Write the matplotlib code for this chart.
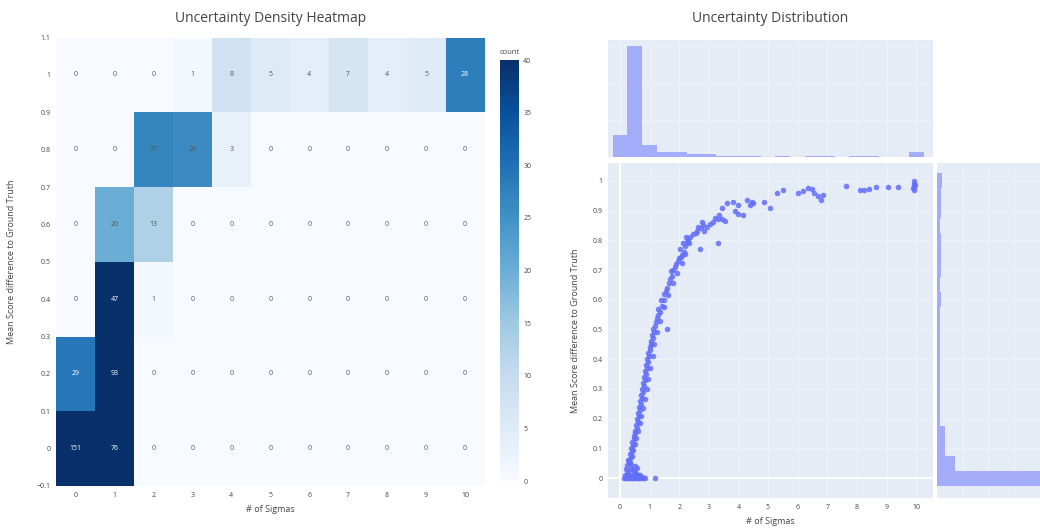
import numpy as np
import matplotlib.pyplot as plt
from matplotlib.colors import Normalize

plt.rcParams['font.family'] = ['Open Sans', 'DejaVu Sans']

# heatmap: counts per (# of sigmas, score difference) cell
sigma_bins = [0, 1, 2, 3, 4, 5, 6, 7, 8, 9, 10]
score_bins = [0, 0.2, 0.4, 0.6, 0.8, 1.0]
counts_0 = [151, 76, 0, 0, 0, 0, 0, 0, 0, 0, 0]
counts_02 = [29, 93, 0, 0, 0, 0, 0, 0, 0, 0, 0]
counts_04 = [0, 47, 1, 0, 0, 0, 0, 0, 0, 0, 0]
counts_06 = [0, 20, 13, 0, 0, 0, 0, 0, 0, 0, 0]
counts_08 = [0, 0, 27, 26, 3, 0, 0, 0, 0, 0, 0]
counts_1 = [0, 0, 0, 1, 8, 5, 4, 7, 4, 5, 28]
count_max = 40

# scatter: sigmas vs mean score difference
sigma_x = [0.15, 0.2, 0.25, 0.3, 0.35, 0.4, 0.45, 0.5, 0.55, 0.6, 0.65, 0.7, 0.78, 0.85, 1.18,
           0.18, 0.25, 0.32, 0.4, 0.48, 0.55, 0.62, 0.2, 0.28, 0.36, 0.44, 0.52,
           0.22, 0.3, 0.38, 0.5, 0.68, 0.74, 0.58, 0.26, 0.34,
           0.3, 0.36, 0.33, 0.4, 0.38, 0.44, 0.42, 0.48, 0.46, 0.52, 0.5, 0.56, 0.54, 0.6,
           0.58, 0.63, 0.61, 0.66, 0.64, 0.7, 0.68, 0.73, 0.71, 0.77, 0.75, 0.8, 0.78, 0.84,
           0.82, 0.87, 0.85, 0.9, 0.88, 0.94, 0.92, 0.98, 0.96, 1.02, 1.0, 1.06, 1.04, 1.1,
           1.08, 1.14, 1.12, 1.18, 1.2, 1.25, 1.28, 1.34, 1.3, 1.42, 1.38, 1.5, 1.47, 1.55,
           1.6, 1.58, 1.65, 1.7, 1.75, 1.72, 1.8, 1.86, 1.9, 1.95, 2.0, 2.05, 2.1, 2.15,
           2.04, 2.2, 2.12, 2.25, 2.3, 2.22, 2.38, 2.45, 2.7,
           0.4, 0.45, 0.5, 0.55, 0.6, 0.66, 0.72, 0.78, 0.84, 0.9, 0.96, 1.02, 1.1, 1.16,
           1.24, 1.36, 1.48, 1.62, 1.78, 1.92, 2.08, 2.18, 2.32,
           2.6, 2.65, 2.72, 2.8, 2.85, 2.95, 2.78, 2.55, 3.05,
           3.15, 3.2, 3.3, 3.35, 3.45, 3.56, 3.31,
           3.46, 3.6, 3.8, 3.9, 3.97, 4.0, 4.17,
           4.3, 4.4, 4.45, 4.5, 4.85, 5.08, 5.3, 5.5,
           6.0, 6.17, 6.34, 6.5, 6.54, 6.68, 6.78, 6.85,
           7.63, 8.1, 8.25, 8.4, 8.64, 9.05, 9.4,
           9.93, 9.93, 9.93, 9.93, 9.95, 9.91]
score_y = [0.0, 0.0, 0.0, 0.0, 0.0, 0.0, 0.0, 0.0, 0.0, 0.0, 0.0, 0.0, 0.0, 0.0, 0.0,
           0.01, 0.015, 0.01, 0.012, 0.008, 0.015, 0.01, 0.03, 0.025, 0.03, 0.028, 0.02,
           0.045, 0.05, 0.045, 0.04, 0.01, 0.005, 0.035, 0.06, 0.055,
           0.06, 0.07, 0.08, 0.09, 0.1, 0.11, 0.12, 0.13, 0.14, 0.15, 0.16, 0.17, 0.18, 0.19,
           0.2, 0.21, 0.22, 0.23, 0.24, 0.25, 0.26, 0.27, 0.28, 0.29, 0.3, 0.31, 0.32, 0.33,
           0.34, 0.35, 0.36, 0.37, 0.38, 0.39, 0.4, 0.41, 0.42, 0.43, 0.44, 0.45, 0.46, 0.47,
           0.48, 0.49, 0.5, 0.51, 0.525, 0.54, 0.55, 0.56, 0.57, 0.58, 0.6, 0.6, 0.62, 0.63,
           0.64, 0.5, 0.655, 0.67, 0.68, 0.695, 0.7, 0.71, 0.72, 0.73, 0.74, 0.745, 0.75, 0.76,
           0.77, 0.78, 0.79, 0.795, 0.8, 0.81, 0.81, 0.82, 0.77,
           0.075, 0.095, 0.115, 0.135, 0.16, 0.185, 0.21, 0.235, 0.265, 0.3, 0.335, 0.37, 0.41,
           0.45, 0.49, 0.53, 0.575, 0.615, 0.655, 0.69, 0.725, 0.755, 0.79,
           0.83, 0.845, 0.84, 0.85, 0.83, 0.845, 0.86, 0.825, 0.855,
           0.86, 0.875, 0.87, 0.885, 0.87, 0.865, 0.79,
           0.91, 0.925, 0.93, 0.9, 0.92, 0.89, 0.885,
           0.935, 0.92, 0.93, 0.925, 0.93, 0.91, 0.96, 0.97,
           0.96, 0.966, 0.976, 0.973, 0.96, 0.949, 0.936, 0.953,
           0.983, 0.97, 0.968, 0.972, 0.98, 0.98, 0.978,
           0.97, 0.98, 0.99, 1.0, 0.985, 0.975]

# marginal histograms
sigma_hist_centers = [0, 0.5, 1, 1.5, 2, 2.5, 3, 3.5, 4, 4.5, 5, 5.5, 6, 6.5, 7, 7.5, 8, 8.5, 9, 9.5, 10]
sigma_hist_counts = [59, 300, 32, 13, 13, 8, 8, 4, 4, 3, 1, 2, 1, 3, 2, 0, 2, 2, 1, 1, 13]
score_hist_centers = [0, 0.05, 0.1, 0.15, 0.2, 0.25, 0.3, 0.35, 0.4, 0.45, 0.5,
                      0.55, 0.6, 0.65, 0.7, 0.75, 0.8, 0.85, 0.9, 0.95, 1.0]
score_hist_counts = [300, 35, 15, 15, 6, 5, 6, 5, 6, 5, 6, 6, 7, 6, 8, 7, 8, 6, 7, 8, 9]

W, H = 1040, 531
text_col = '#444444'
plot_bg = '#E5ECF6'
grid_col = '#F1F4FA'
dot_col = '#636EFA'


def px_box(left, top, right, bottom):
    return [left / W, 1 - bottom / H, (right - left) / W, (bottom - top) / H]


fig = plt.figure(figsize=(W / 100, H / 100), dpi=100)

# ---- left: density heatmap ----
ax = fig.add_axes(px_box(56, 37.6, 484.5, 486))
grid = np.array([counts_0, counts_02, counts_04, counts_06, counts_08, counts_1])
x_step = sigma_bins[1] - sigma_bins[0]
y_step = score_bins[1] - score_bins[0]
x_edges = np.append(np.array(sigma_bins) - x_step / 2, sigma_bins[-1] + x_step / 2)
y_edges = np.append(np.array(score_bins) - y_step / 2, score_bins[-1] + y_step / 2)
norm = Normalize(0, count_max)
mesh = ax.pcolormesh(x_edges, y_edges, grid, cmap='Blues', norm=norm)
for i, yv in enumerate(score_bins):
    for j, xv in enumerate(sigma_bins):
        v = grid[i, j]
        c = 'white' if v >= 0.7 * count_max else '#555555'
        ax.text(xv, yv, str(v), ha='center', va='center', fontsize=5, color=c)
ax.set_xlim(x_edges[0], x_edges[-1])
ax.set_ylim(y_edges[0], y_edges[-1])
ax.set_xticks(sigma_bins)
yt = np.round(np.arange(-0.1, 1.15, 0.1), 1)
ax.set_yticks(yt)
ax.set_yticklabels(['{:g}'.format(t).replace('-', '\u2212') for t in yt])
ax.tick_params(length=0, labelsize=5, colors=text_col, pad=4)
for s in ax.spines.values():
    s.set_visible(False)
ax.set_title('Uncertainty Density Heatmap', fontsize=10, color=text_col, pad=11)
fig.text(270 / W, 1 - 510 / H, '# of Sigmas', ha='center', va='center', fontsize=6.5, color=text_col)
fig.text(12 / W, 1 - 262 / H, 'Mean Score difference to Ground Truth', rotation=90,
         ha='center', va='center', fontsize=6.5, color=text_col)

cax = fig.add_axes(px_box(500, 60, 519, 481))
cb = fig.colorbar(mesh, cax=cax, ticks=np.arange(0, count_max + 1, 5))
cb.outline.set_visible(False)
cax.tick_params(length=0, labelsize=5, colors=text_col, pad=3)
fig.text(500 / W, 1 - 52 / H, 'count', ha='left', va='center', fontsize=5.5, color=text_col)

# ---- right: scatter with marginal histograms ----
sx = fig.add_axes(px_box(608, 163, 933, 498))
sx.set_facecolor(plot_bg)
sx.scatter(sigma_x, score_y, s=16, color=dot_col, alpha=0.85, linewidths=0, zorder=3)
sx.set_xlim(-0.405, 10.57)
sx.set_ylim(-0.067, 1.06)
sx.set_xticks(range(0, 11))
sx.set_yticks(np.round(np.arange(0, 1.05, 0.1), 1))
sx.set_yticklabels(['{:g}'.format(t) for t in np.round(np.arange(0, 1.05, 0.1), 1)])
sx.grid(color=grid_col, linewidth=0.6)
sx.axhline(0, color='white', linewidth=1.4, zorder=1)
sx.axvline(0, color='white', linewidth=1.4, zorder=1)
sx.set_axisbelow(True)
sx.tick_params(length=0, labelsize=5, colors=text_col, pad=4)
for s in sx.spines.values():
    s.set_visible(False)
sx.set_xlabel('# of Sigmas', fontsize=6.5, color=text_col, labelpad=5)
sx.set_ylabel('Mean Score difference to Ground Truth', fontsize=6.5, color=text_col, labelpad=9)

tx = fig.add_axes(px_box(608, 40, 933, 157))
tx.set_facecolor(plot_bg)
tx.bar(sigma_hist_centers, sigma_hist_counts, width=0.5, color=dot_col, alpha=0.5,
       linewidth=0, zorder=3)
tx.set_xlim(sx.get_xlim())
tx.set_ylim(0, max(sigma_hist_counts) * 1.05)
tx.set_xticks(range(0, 11))
tx.set_yticks([100, 200, 300])
tx.grid(color=grid_col, linewidth=0.6)
tx.set_axisbelow(True)
tx.tick_params(length=0, labelbottom=False, labelleft=False)
for s in tx.spines.values():
    s.set_visible(False)
tx.set_title('Uncertainty Distribution', fontsize=10, color=text_col, pad=13)

rx = fig.add_axes(px_box(937, 163, 1099, 498))
rx.set_facecolor(plot_bg)
rx.barh(score_hist_centers, score_hist_counts, height=0.05, color=dot_col, alpha=0.5,
        linewidth=0, zorder=3)
rx.set_ylim(sx.get_ylim())
rx.set_xlim(0, max(score_hist_counts) * 1.05)
rx.set_yticks(np.round(np.arange(0, 1.05, 0.1), 1))
rx.set_xticks([50, 100, 150, 200, 250, 300])
rx.grid(color=grid_col, linewidth=0.6)
rx.set_axisbelow(True)
rx.tick_params(length=0, labelbottom=False, labelleft=False)
for s in rx.spines.values():
    s.set_visible(False)

fig.savefig('out.png', dpi=100)
